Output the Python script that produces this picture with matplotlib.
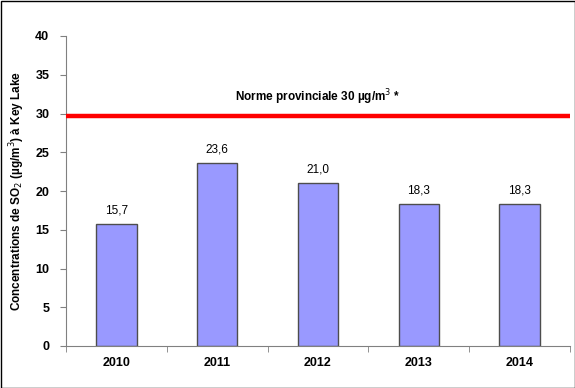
import matplotlib
matplotlib.use("Agg")
import matplotlib.pyplot as plt
from matplotlib.patches import Rectangle

years = ["2010", "2011", "2012", "2013", "2014"]
values = [15.7, 23.6, 21.0, 18.3, 18.3]
norm_value = 29.7
norm_label = "Norme provinciale 30 µg/m$^3$ *"
ylabel = "Concentrations de SO$_2$ (µg/m$^3$) à Key Lake"
yticks = [0, 5, 10, 15, 20, 25, 30, 35, 40]

plt.rcParams['font.family'] = ['Liberation Sans', 'DejaVu Sans']

fig = plt.figure(figsize=(5.75, 3.88), dpi=100)
ax = fig.add_axes([66/575, 1-346/388, (570-66)/575, (346-36)/388])

x = list(range(len(years)))
ax.bar(x, values, width=0.4, color="#9999FF", edgecolor="#4D4D4D", linewidth=1.0, zorder=2)
for xi, v in zip(x, values):
    ax.text(xi, v + 1.0, f"{v:.1f}".replace(".", ","), ha="center", va="bottom", fontsize=8.5)

ax.axhline(norm_value, color="#FF0000", linewidth=3.2, zorder=3)
ax.text(2, norm_value + 1.1, norm_label, ha="center", va="bottom", fontsize=8.5, fontweight="bold")

ax.set_xlim(-0.5, len(years) - 0.5)
ax.set_ylim(0, 40)
ax.set_yticks(yticks)
ax.set_yticklabels([str(t) for t in yticks], fontweight="bold", fontsize=9)
ax.set_xticks(x)
ax.set_xticklabels(years, fontweight="bold", fontsize=9)
ax.tick_params(axis="x", length=0, pad=8)
ax.set_xticks([i - 0.5 for i in range(len(years) + 1)], minor=True)
ax.tick_params(axis="x", which="minor", length=4, direction="out", color="#808080")
ax.tick_params(axis="y", length=4, direction="out", color="#808080", pad=8)
ax.spines["top"].set_visible(False)
ax.spines["right"].set_visible(False)
ax.spines["left"].set_color("#808080")
ax.spines["bottom"].set_color("#808080")
ax.set_ylabel(ylabel, fontweight="bold", fontsize=8.5, labelpad=6)

border = Rectangle((0.5/575, 0.5/388), 1 - 1/575, 1 - 1/388, transform=fig.transFigure,
                   fill=False, edgecolor="black", linewidth=1.0)
fig.patches.append(border)

fig.savefig("out.png", dpi=100)
